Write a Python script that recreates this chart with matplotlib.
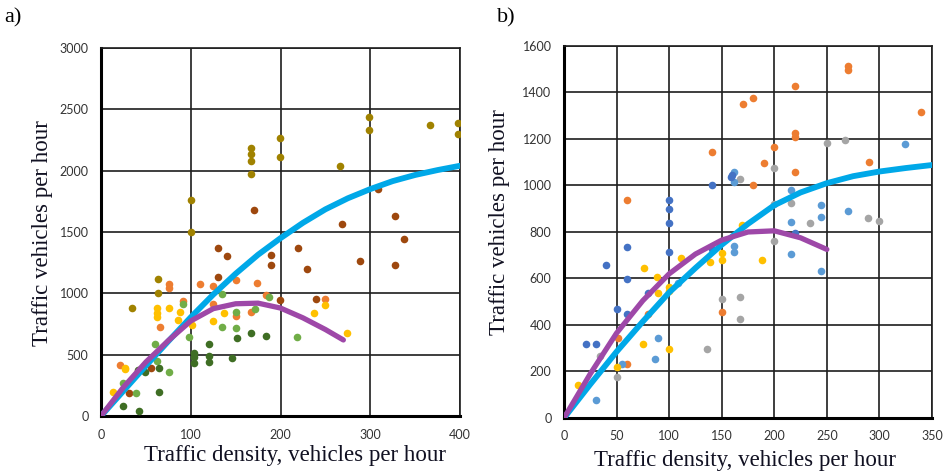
import matplotlib
matplotlib.use("Agg")
import matplotlib.pyplot as plt

# ---- panel a) data ----
a_gold_x = [34, 64, 64, 100, 100, 167, 167, 167, 167, 199, 199, 266, 299, 299, 366, 398, 398]
a_gold_y = [882, 1113, 1004, 1763, 1498, 2182, 2133, 2081, 1973, 2263, 2114, 2041, 2440, 2334, 2369, 2388, 2298]
a_brown_x = [31, 56, 130, 130, 140, 170, 189, 189, 199, 219, 229, 239, 269, 289, 309, 328, 328, 338]
a_brown_y = [185, 388, 1370, 1134, 1305, 1677, 1316, 1229, 947, 1370, 1202, 953, 1563, 1262, 1854, 1634, 1229, 1441]
a_orange_x = [21, 66, 76, 76, 91, 110, 125, 125, 150, 150, 167, 174, 184, 249]
a_orange_y = [415, 722, 1075, 1040, 939, 1075, 1058, 917, 1107, 814, 849, 1088, 985, 953]
a_yellow_x = [13, 27, 27, 62, 62, 62, 76, 86, 88, 101, 125, 137, 237, 249, 274]
a_yellow_y = [193, 393, 380, 877, 841, 808, 877, 782, 849, 741, 776, 841, 836, 909, 678]
a_lgreen_x = [24, 39, 60, 62, 76, 91, 98, 135, 135, 150, 150, 172, 187, 218]
a_lgreen_y = [266, 190, 586, 450, 361, 917, 646, 993, 722, 849, 714, 871, 971, 646]
a_dgreen_x = [24, 42, 41, 49, 65, 65, 104, 104, 104, 120, 120, 120, 146, 152, 167, 184]
a_dgreen_y = [81, 43, 375, 361, 388, 198, 515, 478, 429, 586, 488, 442, 470, 632, 678, 651]

a_blue_x = [0, 25, 50, 75, 100, 125, 150, 175, 200, 225, 250, 275, 300, 325, 350, 375, 400]
a_blue_y = [0, 205, 410, 610, 805, 990, 1160, 1315, 1450, 1575, 1685, 1775, 1850, 1915, 1965, 2005, 2040]
a_purple_x = [0, 25, 50, 75, 100, 125, 150, 175, 200, 225, 250, 270]
a_purple_y = [0, 235, 440, 615, 775, 875, 915, 920, 880, 800, 705, 620]

# ---- panel b) data ----
b_orange_x = [51, 60, 60, 80, 141, 150, 170, 180, 180, 190, 200, 220, 220, 220, 220, 270, 270, 290, 340]
b_orange_y = [343, 232, 936, 447, 1146, 457, 1349, 1375, 1002, 1097, 1167, 1429, 1224, 1210, 1059, 1497, 1512, 1102, 1317]
b_dblue_x = [21, 30, 40, 50, 60, 60, 60, 80, 100, 100, 100, 100, 141, 141, 159, 160, 220]
b_dblue_y = [319, 319, 658, 468, 737, 597, 447, 536, 938, 899, 840, 712, 1002, 728, 1038, 1045, 794]
b_lblue_x = [30, 55, 87, 89, 108, 162, 162, 162, 162, 216, 216, 216, 244, 244, 244, 270, 324]
b_lblue_y = [78, 233, 252, 343, 579, 1057, 1014, 741, 713, 980, 841, 704, 916, 863, 632, 891, 1177]
b_gray_x = [34, 50, 136, 150, 167, 167, 167, 200, 200, 200, 216, 234, 250, 267, 289, 300]
b_gray_y = [265, 178, 298, 513, 522, 424, 1030, 1074, 920, 762, 923, 840, 1181, 1196, 862, 847]
b_yellow_x = [13, 50, 75, 76, 88, 89, 100, 100, 100, 111, 139, 150, 150, 169, 188]
b_yellow_y = [142, 221, 318, 644, 606, 536, 565, 545, 297, 687, 671, 708, 681, 829, 681]

b_blue_x = [0, 25, 50, 75, 100, 125, 150, 175, 200, 225, 250, 275, 300, 325, 350]
b_blue_y = [0, 145, 285, 415, 540, 645, 745, 835, 915, 970, 1010, 1040, 1060, 1075, 1088]
b_purple_x = [0, 25, 50, 75, 100, 125, 150, 175, 200, 225, 250]
b_purple_y = [0, 190, 365, 505, 620, 705, 765, 800, 805, 775, 725]

serif = "Liberation Serif"
tick_font = "Lato"

fig = plt.figure(figsize=(9.46, 4.73), dpi=100)
ax_a = fig.add_axes([0.1068, 0.1205, 0.3795, 0.778])
ax_b = fig.add_axes([0.5962, 0.1163, 0.389, 0.7865])


def style(ax, xmax, xstep, ymax, ystep):
    ax.set_xlim(0, xmax)
    ax.set_ylim(0, ymax)
    ax.set_xticks(range(0, xmax + 1, xstep))
    ax.set_yticks(range(0, ymax + 1, ystep))
    ax.grid(True, color="#1e1e1e", linewidth=1.2)
    ax.set_axisbelow(True)
    for side in ["top", "right"]:
        ax.spines[side].set_linewidth(1.2)
        ax.spines[side].set_color("#1e1e1e")
    for side in ["left", "bottom"]:
        ax.spines[side].set_linewidth(2.2)
        ax.spines[side].set_color("black")
    ax.tick_params(length=0, pad=9, labelsize=9, labelcolor="#333333")
    for lab in ax.get_xticklabels() + ax.get_yticklabels():
        lab.set_fontfamily(tick_font)


style(ax_a, 400, 100, 3000, 500)
style(ax_b, 350, 50, 1600, 200)

ms = 30
ax_a.scatter(a_gold_x, a_gold_y, s=ms, color="#A08200", zorder=3, linewidths=0)
ax_a.scatter(a_brown_x, a_brown_y, s=ms, color="#9E480E", zorder=3, linewidths=0)
ax_a.scatter(a_orange_x, a_orange_y, s=ms, color="#ED7D31", zorder=3, linewidths=0)
ax_a.scatter(a_yellow_x, a_yellow_y, s=ms, color="#FFC000", zorder=3, linewidths=0)
ax_a.scatter(a_lgreen_x, a_lgreen_y, s=ms, color="#70AD47", zorder=3, linewidths=0)
ax_a.scatter(a_dgreen_x, a_dgreen_y, s=ms, color="#3F6E24", zorder=3, linewidths=0)
ax_a.plot(a_blue_x, a_blue_y, color="#00A8E8", linewidth=4.2, zorder=4, solid_capstyle="round", solid_joinstyle="round")
ax_a.plot(a_purple_x, a_purple_y, color="#9E48A8", linewidth=3.8, zorder=5, solid_capstyle="round", solid_joinstyle="round")

ax_b.scatter(b_orange_x, b_orange_y, s=ms, color="#ED7D31", zorder=3, linewidths=0)
ax_b.scatter(b_gray_x, b_gray_y, s=ms, color="#A5A5A5", zorder=3, linewidths=0)
ax_b.scatter(b_lblue_x, b_lblue_y, s=ms, color="#5B9BD5", zorder=3, linewidths=0)
ax_b.scatter(b_dblue_x, b_dblue_y, s=ms, color="#4472C4", zorder=3, linewidths=0)
ax_b.scatter(b_yellow_x, b_yellow_y, s=ms, color="#FFC000", zorder=3, linewidths=0)
ax_b.plot(b_blue_x, b_blue_y, color="#00A8E8", linewidth=4.2, zorder=4, solid_capstyle="round", solid_joinstyle="round")
ax_b.plot(b_purple_x, b_purple_y, color="#9E48A8", linewidth=3.8, zorder=5, solid_capstyle="round", solid_joinstyle="round")

# axis titles and panel letters
lab_kw = dict(family=serif, fontsize=16.5, color="#111122")
fig.text(0.045, 0.507, "Traffic vehicles per hour", rotation=90, ha="center", va="center", **lab_kw)
fig.text(0.312, 0.038, "Traffic density, vehicles per hour", ha="center", va="center", **lab_kw)
fig.text(0.5285, 0.53, "Traffic vehicles per hour", rotation=90, ha="center", va="center", **lab_kw)
fig.text(0.7875, 0.027, "Traffic density, vehicles per hour", ha="center", va="center", **lab_kw)
fig.text(0.005, 0.962, "a)", family=serif, fontsize=16, ha="left", va="center")
fig.text(0.525, 0.962, "b)", family=serif, fontsize=16, ha="left", va="center")

fig.savefig("out.png", dpi=100)
